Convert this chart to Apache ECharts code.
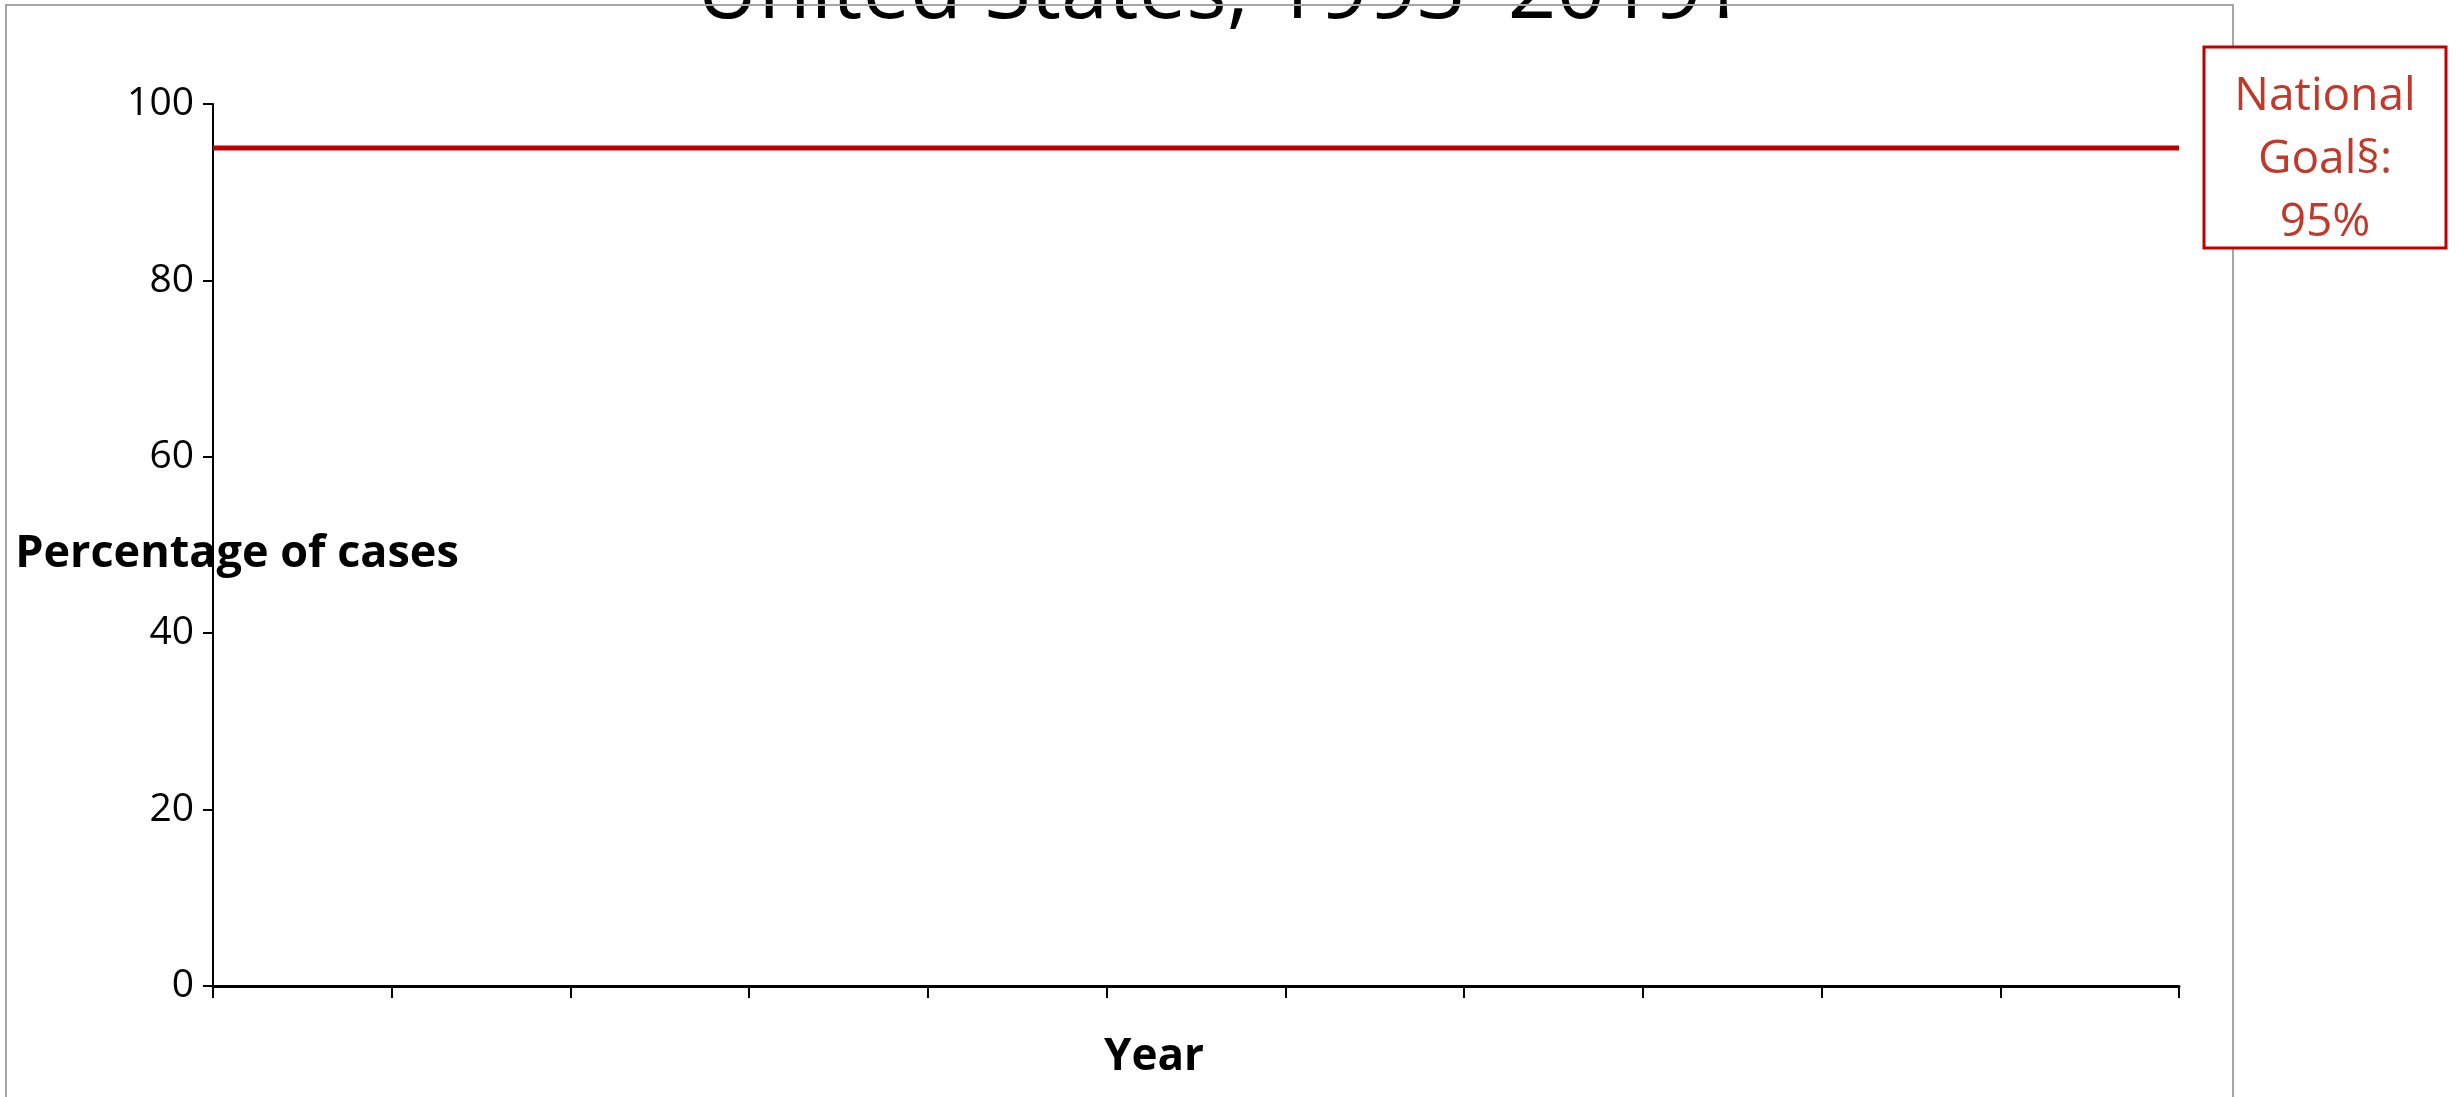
<!DOCTYPE html>
<html>
<head>
<meta charset="utf-8">
<script src="https://cdn.jsdelivr.net/npm/echarts@6/dist/echarts.min.js"></script>
<style>
html,body{margin:0;padding:0;background:#fff;}
#c{width:2458px;height:1097px;}
</style>
</head>
<body>
<div id="c"></div>
<script>
// ---- data ----
const titleText = 'United States, 1993–2019†';
const yAxisName = 'Percentage of cases';
const xAxisName = 'Year';
const yTicks = [0, 20, 40, 60, 80, 100];
const xTickPositions = [0, 1, 2, 3, 4, 5, 6, 7, 8, 9, 10, 11];
const goalX = [0, 11];
const goalY = [95, 95];
const goalLabel = ['National', 'Goal§:', '95%'];

const chart = echarts.init(document.getElementById('c'), null, {renderer: 'canvas'});
const goalData = goalX.map((x, i) => [x, goalY[i]]);

chart.setOption({
  animation: false,
  backgroundColor: '#ffffff',
  grid: {left: 213, right: 279, top: 104, bottom: 111, containLabel: false},
  xAxis: {
    type: 'value',
    min: xTickPositions[0],
    max: xTickPositions[xTickPositions.length - 1],
    interval: 1,
    axisLine: {show: true, lineStyle: {color: '#000', width: 3}},
    axisTick: {show: true, inside: false, length: 12, lineStyle: {color: '#000', width: 2}},
    axisLabel: {show: false},
    splitLine: {show: false}
  },
  yAxis: {
    type: 'value',
    min: yTicks[0],
    max: yTicks[yTicks.length - 1],
    interval: yTicks[1] - yTicks[0],
    axisLine: {show: true, lineStyle: {color: '#000', width: 2}},
    axisTick: {show: true, inside: false, length: 10, lineStyle: {color: '#000', width: 2}},
    axisLabel: {show: true, margin: 19, color: '#000', fontFamily: 'Open Sans', fontSize: 39},
    splitLine: {show: false}
  },
  series: [{
    type: 'line',
    data: goalData,
    symbol: 'none',
    lineStyle: {color: '#c00000', width: 5},
    z: 3
  }],
  graphic: [
    {
      type: 'text', z: 1,
      style: {x: 1221, y: 36, text: titleText, fill: '#000', font: '85px "Open Sans"', textAlign: 'center', textVerticalAlign: 'bottom'}
    },
    {
      type: 'rect', z: 50, silent: true,
      shape: {x: 6, y: 5, width: 2227, height: 1200},
      style: {fill: 'none', stroke: '#a6a6a6', lineWidth: 2}
    },
    {
      type: 'text', z: 60,
      style: {x: 237, y: 554, text: yAxisName, fill: '#000', font: 'bold 45px "Open Sans"', textAlign: 'center', textVerticalAlign: 'middle'}
    },
    {
      type: 'text', z: 60,
      style: {x: 1154, y: 1057, text: xAxisName, fill: '#000', font: 'bold 44px "Open Sans"', textAlign: 'center', textVerticalAlign: 'middle'}
    },
    {
      type: 'rect', z: 55,
      shape: {x: 2204, y: 47, width: 242, height: 201},
      style: {fill: '#fff', stroke: '#c00000', lineWidth: 3}
    },
    {
      type: 'text', z: 60,
      style: {x: 2325, y: 65, text: goalLabel.join('\n'), fill: '#c0392b', font: '46px "Open Sans"', lineHeight: 63, textAlign: 'center', textVerticalAlign: 'top'}
    }
  ]
});
</script>
</body>
</html>
